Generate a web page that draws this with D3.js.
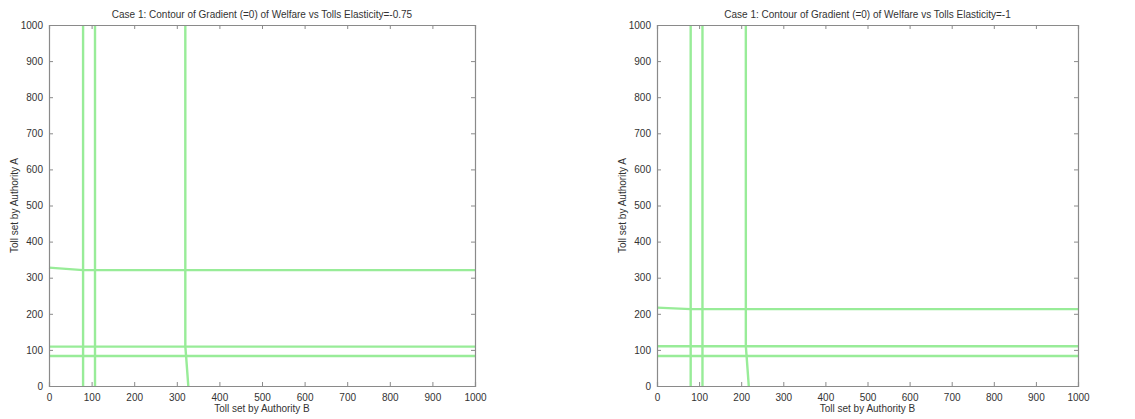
<!DOCTYPE html>
<html>
<head>
<meta charset="utf-8">
<script src="https://cdn.jsdelivr.net/npm/d3@7"></script>
<style>
  body { margin: 0; background: #fff; }
  text { font-family: "Liberation Sans", Arial, sans-serif; }
</style>
</head>
<body>
<div id="chart"></div>
<script>
// tick values for both axes
var tickValues = [0, 100, 200, 300, 400, 500, 600, 700, 800, 900, 1000];

// contour lines of panel 1 (elasticity -0.75), as [tollB, tollA] points
var leftV1 = [[80, 0], [80, 1000]];
var leftV2 = [[108, 0], [108, 1000]];
var leftV3 = [[327, 0], [322, 80], [320, 110], [320, 1000]];
var leftH1 = [[0, 328], [80, 321], [1000, 321]];
var leftH2 = [[0, 109], [1000, 109]];
var leftH3 = [[0, 83], [1000, 83]];

// contour lines of panel 2 (elasticity -1)
var rightV1 = [[80, 0], [80, 1000]];
var rightV2 = [[108, 0], [108, 1000]];
var rightV3 = [[218, 0], [213, 80], [211, 110], [211, 1000]];
var rightH1 = [[0, 217], [80, 213], [1000, 213]];
var rightH2 = [[0, 110], [1000, 110]];
var rightH3 = [[0, 83], [1000, 83]];

var titles = [
  "Case 1: Contour of Gradient (=0) of Welfare vs Tolls Elasticity=-0.75",
  "Case 1: Contour of Gradient (=0) of Welfare vs Tolls Elasticity=-1"
];

var width = 1135, height = 419;

var svg = d3.select("#chart").append("svg")
  .attr("width", width)
  .attr("height", height);

// draw one panel
function drawPanel(x0, x1, y0, y1, title, lines) {
  var x = d3.scaleLinear().domain([0, 1000]).range([x0, x1]);
  var y = d3.scaleLinear().domain([0, 1000]).range([y1, y0]);
  var g = svg.append("g");

  // contours
  var line = d3.line()
    .x(function(d) { return x(d[0]); })
    .y(function(d) { return y(d[1]); });
  g.selectAll("path.contour")
    .data(lines)
    .enter().append("path")
    .attr("class", "contour")
    .attr("d", line)
    .attr("fill", "none")
    .attr("stroke", "#98ec98")
    .attr("stroke-width", 2.4);

  // bottom / left axes with inward ticks
  var fmt = d3.format("d");
  var xAxis = d3.axisBottom(x).tickValues(tickValues).tickFormat(fmt).tickSize(-4).tickPadding(8);
  var yAxis = d3.axisLeft(y).tickValues(tickValues).tickFormat(fmt).tickSize(-4).tickPadding(6);
  var xa = g.append("g").attr("transform", "translate(0," + y1 + ")").call(xAxis);
  var ya = g.append("g").attr("transform", "translate(" + x0 + ",0)").call(yAxis);
  // top / right ticks, no labels
  var xt = g.append("g").attr("transform", "translate(0," + y0 + ")")
    .call(d3.axisTop(x).tickValues(tickValues).tickSize(-4).tickFormat(""));
  var yr = g.append("g").attr("transform", "translate(" + x1 + ",0)")
    .call(d3.axisRight(y).tickValues(tickValues).tickSize(-4).tickFormat(""));

  [xa, ya, xt, yr].forEach(function(a) {
    a.select(".domain").attr("stroke", "#8a8a8a").attr("stroke-width", 1.2);
    a.selectAll(".tick line").attr("stroke", "#8a8a8a");
    a.selectAll("text").attr("fill", "#333").style("font-size", "10px");
  });

  // title and axis labels
  g.append("text")
    .attr("x", (x0 + x1) / 2).attr("y", y0 - 7)
    .attr("text-anchor", "middle")
    .attr("fill", "#333")
    .style("font-size", "10px")
    .text(title);
  g.append("text")
    .attr("x", (x0 + x1) / 2).attr("y", y1 + 26)
    .attr("text-anchor", "middle")
    .attr("fill", "#333")
    .style("font-size", "10px")
    .text("Toll set by Authority B");
  g.append("text")
    .attr("transform", "translate(" + (x0 - 31) + "," + ((y0 + y1) / 2) + ") rotate(-90)")
    .attr("text-anchor", "middle")
    .attr("fill", "#333")
    .style("font-size", "10px")
    .text("Toll set by Authority A");
}

drawPanel(49, 475, 25, 386, titles[0], [leftV1, leftV2, leftV3, leftH1, leftH2, leftH3]);
drawPanel(657, 1078, 25, 386, titles[1], [rightV1, rightV2, rightV3, rightH1, rightH2, rightH3]);
</script>
</body>
</html>
